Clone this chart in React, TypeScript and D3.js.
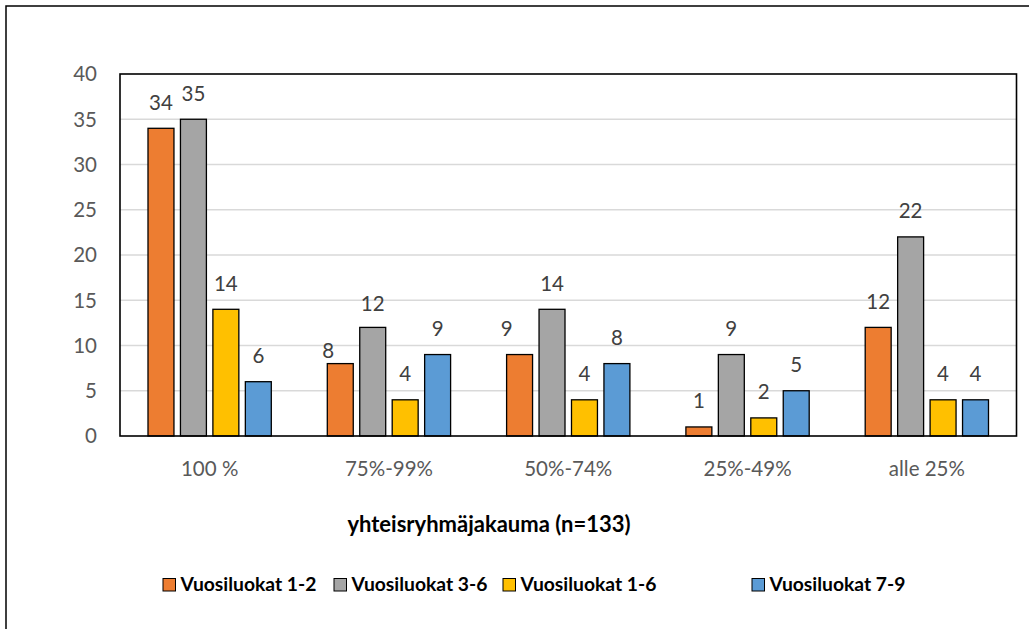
import React from "react";
import * as d3 from "d3";

const categories = ["100 %", "75%-99%", "50%-74%", "25%-49%", "alle 25%"];
const seriesNames = ["Vuosiluokat 1-2", "Vuosiluokat 3-6", "Vuosiluokat 1-6", "Vuosiluokat 7-9"];
const seriesColors = ["#ED7D31", "#A5A5A5", "#FFC000", "#5B9BD5"];
const vuosi12 = [34, 8, 9, 1, 12];
const vuosi36 = [35, 12, 14, 9, 22];
const vuosi16 = [14, 4, 4, 2, 4];
const vuosi79 = [6, 9, 8, 5, 4];
const yTicks = [0, 5, 10, 15, 20, 25, 30, 35, 40];
const axisTitle = "yhteisryhmäjakauma (n=133)";
const legendX = [163, 334, 503, 752];
// manual label nudges [seriesIndex, categoryIndex, dx, dy]
const labelNudges: [number, number, number, number][] = [
  [0, 1, -12, 13],
  [1, 1, 0, 2],
  [0, 2, -13, 0],
];

const W = 1029;
const H = 629;
const plot = { left: 120, right: 1016.5, top: 74, bottom: 436 };
const FONT = "Lato, 'Open Sans', sans-serif";

export default function App() {
  const series = [vuosi12, vuosi36, vuosi16, vuosi79];
  const x0 = d3.scaleBand().domain(categories).range([plot.left, plot.right]).paddingInner(0).paddingOuter(0);
  const x1 = d3
    .scaleBand()
    .domain(seriesNames)
    .range([28, x0.bandwidth() - 28])
    .paddingInner(0.2)
    .paddingOuter(0);
  const y = d3.scaleLinear().domain([0, 40]).range([plot.bottom, plot.top]);
  const nudge = (si: number, ci: number) => {
    const n = labelNudges.find((d) => d[0] === si && d[1] === ci);
    return n ? [n[2], n[3]] : [0, 0];
  };

  return (
    <svg
      width={W}
      height={H}
      style={{ position: "absolute", left: 0, top: 0, background: "#fff" }}
      fontFamily={FONT}
    >
      <rect x={0} y={0} width={W} height={H} fill="#fff" />
      <rect x={6} y={6} width={W + 20} height={H + 20} fill="none" stroke="#000" strokeWidth={1.5} />
      {yTicks.slice(1, -1).map((t) => (
        <line key={t} x1={plot.left} x2={plot.right} y1={y(t)} y2={y(t)} stroke="#D9D9D9" strokeWidth={1.3} />
      ))}
      {yTicks.map((t) => (
        <text key={t} x={97} y={y(t)} dy="0.36em" textAnchor="end" fontSize={20.5} fill="#595959">
          {t}
        </text>
      ))}
      {categories.map((c, ci) => (
        <g key={c} transform={`translate(${x0(c)},0)`}>
          {series.map((s, si) => {
            const bx = x1(seriesNames[si])!;
            const v = s[ci];
            const [dx, dy] = nudge(si, ci);
            return (
              <g key={si}>
                <rect
                  x={bx}
                  y={y(v)}
                  width={x1.bandwidth()}
                  height={y(0) - y(v)}
                  fill={seriesColors[si]}
                  stroke="#000"
                  strokeWidth={1.3}
                />
                <text
                  x={bx + x1.bandwidth() / 2 + dx}
                  y={y(v) - 18.5 + dy}
                  textAnchor="middle"
                  fontSize={20.5}
                  fill="#404040"
                >
                  {v}
                </text>
              </g>
            );
          })}
          <text x={x0.bandwidth() / 2} y={476} textAnchor="middle" fontSize={20.5} fill="#595959">
            {c}
          </text>
        </g>
      ))}
      <rect
        x={plot.left}
        y={plot.top}
        width={plot.right - plot.left}
        height={plot.bottom - plot.top}
        fill="none"
        stroke="#000"
        strokeWidth={1.6}
      />
      <text x={489} y={532} textAnchor="middle" fontSize={22} fontWeight="bold" fill="#000">
        {axisTitle}
      </text>
      {seriesNames.map((n, i) => (
        <g key={n}>
          <rect x={legendX[i]} y={578.5} width={12.5} height={12.5} fill={seriesColors[i]} stroke="#000" strokeWidth={1} />
          <text x={legendX[i] + 17.5} y={591} fontSize={19.3} fontWeight="bold" fill="#000">
            {n}
          </text>
        </g>
      ))}
    </svg>
  );
}
